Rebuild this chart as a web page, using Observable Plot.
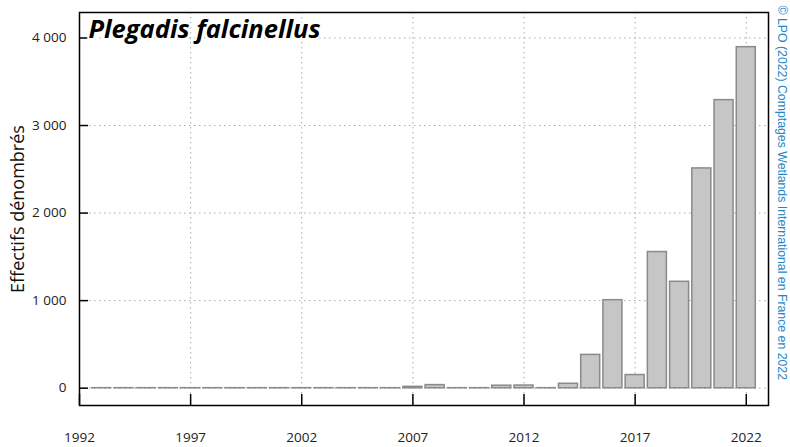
<!DOCTYPE html>
<html><head><meta charset="utf-8">
<script src="https://cdn.jsdelivr.net/npm/d3@7"></script>
<script src="https://cdn.jsdelivr.net/npm/@observablehq/plot@0.6"></script>
<style>body{margin:0;background:#fff}</style>
</head><body><div id="chart"></div>
<script>
const years = [1993,1994,1995,1996,1997,1998,1999,2000,2001,2002,2003,2004,2005,2006,2007,2008,2009,2010,2011,2012,2013,2014,2015,2016,2017,2018,2019,2020,2021,2022];
const counts = [0,0,0,0,0,0,0,0,0,0,0,0,0,0,15,35,0,0,28,30,0,50,380,1005,150,1555,1215,2510,3290,3895];
const xTicks = [1992,1997,2002,2007,2012,2017,2022];
const yTicks = [0,1000,2000,3000,4000];
const title = "Plegadis falcinellus";
const yLabel = "Effectifs dénombrés";
const credit = "© LPO (2022) Comptages Wetlands International en France en 2022";

const data = years.map((year, i) => ({year, count: counts[i]}));
const fr = d3.formatLocale({decimal: ",", thousands: " ", grouping: [3]}).format(",d");

const chart = Plot.plot({
  width: 790, height: 447,
  marginLeft: 79, marginRight: 22, marginTop: 12, marginBottom: 42,
  style: {fontFamily: "'Open Sans', sans-serif", fontSize: "13.5px", background: "white", color: "#222"},
  x: {domain: [1992, 2023]},
  y: {domain: [-198, 4291]},
  marks: [
    Plot.gridX(xTicks, {stroke: "#aaa", strokeOpacity: 1, strokeDasharray: "1.5,3.5"}),
    Plot.gridY(yTicks, {stroke: "#aaa", strokeOpacity: 1, strokeDasharray: "1.5,3.5"}),
    Plot.rectY(data, {x1: d => d.year - 0.5, x2: d => d.year + 0.5, y: "count",
      fill: "#c6c6c6", stroke: "#8a8a8a", strokeWidth: 1.5,
      insetLeft: 1.6, insetRight: 1.6, insetBottom: -0.1}),
    Plot.axisX(xTicks, {tickSize: 0, tickPadding: 27, tickFormat: d => String(d), fontSize: 13.5}),
    Plot.axisY(yTicks, {tickSize: 0, tickPadding: 13, tickFormat: fr, label: null, fontSize: 13.5}),
    Plot.tickX(xTicks, {x: d => d, insetTop: 382, stroke: "black", strokeWidth: 1.5}),
    Plot.tickY(yTicks, {y: d => d, insetRight: 680, stroke: "black", strokeWidth: 1.5}),
    Plot.frame({stroke: "black", strokeWidth: 1.5}),
    Plot.text([title], {frameAnchor: "top-left", text: d => d, textAnchor: "start", lineAnchor: "top",
      dx: 9, dy: 7, fontSize: 25.5, fontWeight: "bold", fontStyle: "italic", fill: "black",
      stroke: "white", strokeWidth: 4}),
    Plot.text([yLabel], {frameAnchor: "left", text: d => d, rotate: -90, textAnchor: "middle",
      lineAnchor: "middle", dx: -61, fontSize: 18, fill: "#111"}),
    Plot.text([credit], {frameAnchor: "top-right", text: d => d, rotate: 90, textAnchor: "start",
      lineAnchor: "middle", dx: 13, dy: -7, fill: "#2288c8",
      fontFamily: "'Liberation Sans', Arial, sans-serif", fontSize: 12.3})
  ]
});
document.getElementById("chart").appendChild(chart);
</script>
</body></html>
